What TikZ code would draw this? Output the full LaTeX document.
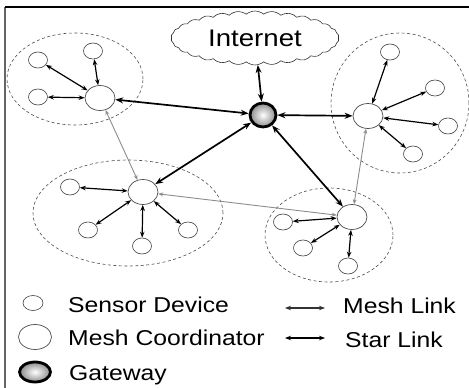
\documentclass[tikz,border=0pt]{standalone}
\usepackage{fontspec}
\setmainfont[FakeStretch=1.15]{Liberation Sans}
\usetikzlibrary{shapes.symbols,shapes.geometric,arrows.meta}
\begin{document}
\begin{tikzpicture}[x=1pt,y=-1pt,
 sensor/.style={draw=black!75,line width=0.6pt,fill=white,ellipse,minimum width=19pt,minimum height=16pt,inner sep=0pt},
 coord/.style={draw=black!70,line width=0.7pt,fill=white,ellipse,minimum width=30pt,minimum height=25pt,inner sep=0pt},
 gatew/.style={draw=black,line width=2.8pt,ellipse,minimum width=26pt,minimum height=24pt,inner sep=0pt,inner color=white,outer color=black!45},
 zone/.style={draw=black!70,line width=0.6pt,dash pattern=on 3pt off 2.5pt},
 gwlink/.style={line width=1.7pt,{Stealth[length=8pt,width=6pt]}-{Stealth[length=8pt,width=6pt]}},
 starlink/.style={line width=1.2pt,{Stealth[length=6pt,width=4.5pt]}-{Stealth[length=6pt,width=4.5pt]}},
 meshlink/.style={draw=black!45,line width=0.9pt,{Stealth[length=5pt,width=4pt,open]}-{Stealth[length=5pt,width=4pt,open]}},
 lbl/.style={font=\fontsize{21.5}{25}\selectfont,anchor=base west,inner sep=0pt},
 cloudbox/.style={cloud,draw=black!80,line width=0.6pt,cloud puffs=30,cloud puff arc=80,aspect=3.2,minimum width=168pt,minimum height=54pt,inner sep=0pt,font=\fontsize{24}{28}\selectfont}
]
\useasboundingbox (0,0) rectangle (469,388);
% frame
\draw[black!60,line width=1.2pt] (5,388) -- (5,7);
\draw[black,line width=1.2pt] (5,7) -- (469,7);
% zones
\draw[zone] (75,79) ellipse [x radius=68pt, y radius=46pt];
\draw[zone] (400,103) ellipse [x radius=69pt, y radius=70pt];
\draw[zone] (128,213) ellipse [x radius=95pt, y radius=53pt];
\draw[zone] (329,235) ellipse [x radius=64pt, y radius=47pt];
% internet and gateway
\node[cloudbox] (inet) at (255,38) {Internet};
\node[gatew] (gw) at (263,115) {};
% top-left cluster
\node[coord] (ac) at (100,98) {};
\node[sensor] (a1) at (38,60) {};
\node[sensor] (a2) at (93,51) {};
\node[sensor] (a3) at (38,97) {};
% right cluster
\node[coord] (bc) at (368,116) {};
\node[sensor] (b1) at (390,52) {};
\node[sensor] (b2) at (435,88) {};
\node[sensor] (b3) at (448,126) {};
\node[sensor] (b4) at (413,154) {};
% middle cluster
\node[coord] (cc) at (143,192) {};
\node[sensor] (c1) at (70,187) {};
\node[sensor] (c2) at (88,230) {};
\node[sensor] (c3) at (142,246) {};
\node[sensor] (c4) at (188,230) {};
% bottom-right cluster
\node[coord] (dc) at (352,217) {};
\node[sensor] (d1) at (283,222) {};
\node[sensor] (d2) at (303,248) {};
\node[sensor] (d3) at (348,266) {};
% gateway links
\draw[gwlink] (inet) -- (gw);
\draw[gwlink] (ac) -- (gw);
\draw[gwlink] (cc) -- (gw);
\draw[gwlink] (dc) -- (gw);
\draw[gwlink] (bc) -- (gw);
% mesh links between coordinators
\draw[meshlink] (ac) -- (cc);
\draw[meshlink] (cc) -- (dc);
\draw[meshlink] (bc) -- (dc);
% star links
\foreach \s in {a1,a2,a3} \draw[starlink] (ac) -- (\s);
\foreach \s in {b1,b2,b3,b4} \draw[starlink] (bc) -- (\s);
\foreach \s in {c1,c2,c3,c4} \draw[starlink] (cc) -- (\s);
\foreach \s in {d1,d2,d3} \draw[starlink] (dc) -- (\s);
% legend
\node[sensor,minimum width=20pt,minimum height=15pt] (ls) at (33,303) {};
\node[lbl] (lst) at (68,312) {Sensor Device};
\node[coord,minimum width=33pt,minimum height=25pt] (lc) at (35,337) {};
\node[lbl] (lct) at (68,345) {Mesh Coordinator};
\node[gatew,minimum width=31pt,minimum height=20pt] (lg) at (35,372) {};
\node[lbl] (lgt) at (69,380) {Gateway};
\coordinate (m1) at (285,308);
\coordinate (m2) at (325,308);
\draw[line width=1.1pt,black!80,{Stealth[length=6pt,width=4.5pt]}-{Stealth[length=6pt,width=4.5pt]}] (m1) -- (m2);
\node[lbl] (lmt) at (343,313) {Mesh Link};
\coordinate (s1) at (285,338);
\coordinate (s2) at (325,338);
\draw[starlink] (s1) -- (s2);
\node[lbl] (lsl) at (345,347) {Star Link};
\end{tikzpicture}
\end{document}
